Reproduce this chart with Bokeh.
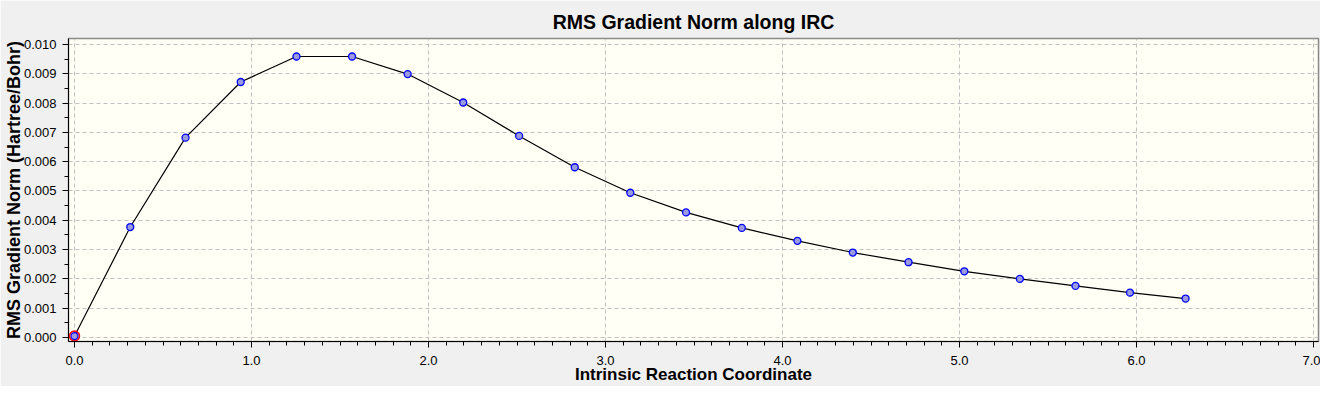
from bokeh.plotting import figure
from bokeh.models import Range1d, SingleIntervalTicker, PrintfTickFormatter
from bokeh.embed import file_html
from bokeh.resources import INLINE

title_text = "RMS Gradient Norm along IRC"
x_label = "Intrinsic Reaction Coordinate"
y_label = "RMS Gradient Norm (Hartree/Bohr)"

irc = [0.000, 0.315, 0.627, 0.939, 1.254, 1.568, 1.882, 2.196, 2.512, 2.826,
       3.140, 3.455, 3.770, 4.084, 4.397, 4.712, 5.027, 5.341, 5.655, 5.963, 6.277]
rms_grad = [0.00005, 0.00377, 0.00682, 0.00872, 0.00959, 0.00959, 0.00899, 0.00802,
            0.00688, 0.00581, 0.00494, 0.00427, 0.00374, 0.00330, 0.00290, 0.00257,
            0.00226, 0.00200, 0.00176, 0.00153, 0.00133]

FONT = "Liberation Sans"

p = figure(width=1320, height=386, output_backend="svg", toolbar_location=None,
           x_range=Range1d(-0.034, 7.028), y_range=Range1d(-0.000136, 0.010204),
           min_border_left=67, min_border_right=2, min_border_top=38,
           min_border_bottom=43)

p.background_fill_color = "#fffff5"
p.border_fill_color = "#f0f0f0"
p.outline_line_color = "#8a8a8a"
p.outline_line_width = 1.5

p.title.text = title_text
p.title.align = "center"
p.title.text_font = FONT
p.title.text_font_size = "19.5px"
p.title.text_font_style = "bold"
p.title.text_color = "black"
p.title.standoff = 11

# grid
for g in (p.xgrid, p.ygrid):
    g.grid_line_color = "#c0c0c0"
    g.grid_line_dash = "4 3"
    g.grid_line_width = 1

# axes
p.xaxis.ticker = SingleIntervalTicker(interval=1.0, num_minor_ticks=10)
p.yaxis.ticker = SingleIntervalTicker(interval=0.001, num_minor_ticks=2)
p.xaxis.formatter = PrintfTickFormatter(format="%.1f")
p.yaxis.formatter = PrintfTickFormatter(format="%.3f")
p.xaxis.axis_label = x_label
p.yaxis.axis_label = y_label
for ax in (p.xaxis, p.yaxis):
    ax.axis_line_color = "black"
    ax.major_tick_line_color = "black"
    ax.minor_tick_line_color = "black"
    ax.major_tick_in = 0
    ax.major_tick_out = 6
    ax.minor_tick_in = 0
    ax.minor_tick_out = 4
    ax.major_label_text_font = FONT
    ax.major_label_text_font_size = "13px"
    ax.major_label_text_color = "black"
    ax.axis_label_text_font = FONT
    ax.axis_label_text_font_style = "bold"
    ax.axis_label_text_color = "black"
p.xaxis.major_label_standoff = 8
p.xaxis.axis_label_standoff = -3
p.xaxis.axis_label_text_font_size = "17px"
p.yaxis.major_label_standoff = 6
p.yaxis.axis_label_standoff = -3
p.yaxis.axis_label_text_font_size = "18px"

p.line(irc, rms_grad, line_color="black", line_width=1.2)
p.scatter(irc, rms_grad, size=7, line_color="#0000ff", fill_color="#9a9ae0",
          line_width=1.3)
p.scatter(irc[:1], rms_grad[:1], size=10, fill_color=None, line_color="red",
          line_width=1.5)

open("out.html", "w").write(file_html(p, INLINE))
